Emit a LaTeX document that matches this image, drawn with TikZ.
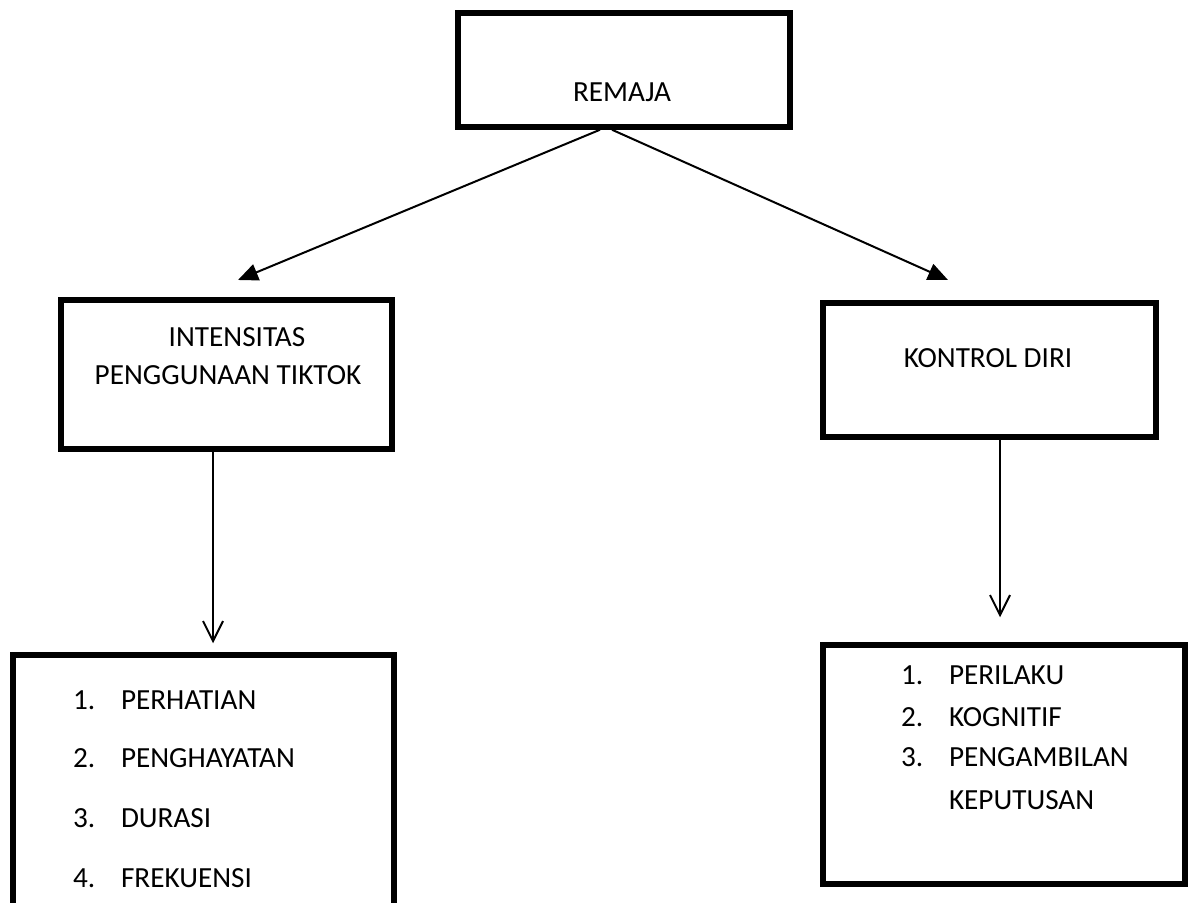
\documentclass[tikz,border=0pt]{standalone}
\usepackage{fontspec}
\setmainfont{Carlito}
\usetikzlibrary{calc,arrows.meta}

\begin{document}
\begin{tikzpicture}[x=0.5pt,y=-0.5pt,line width=1pt,
  box/.style={draw,line width=2.75pt,inner sep=0pt},
  txt/.style={inner sep=0pt,font=\fontsize{14.6}{17}\selectfont},
  item/.style={txt,anchor=west},
  fleche/.style={-{Triangle[length=10pt,width=8.5pt]}},
  chute/.style={-{Straight Barb[length=10pt,width=10pt]}}]
\useasboundingbox (0,0) rectangle (1194,903);
\clip (0,0) rectangle (1194,903);

%les cadres
\node[box,minimum width=166pt,minimum height=57pt] (remaja) at (624,70) {};
\node[box,minimum width=165.5pt,minimum height=74.5pt] (intens) at (226.5,374.5) {};
\node[box,minimum width=166.5pt,minimum height=67pt] (kontrol) at (989.5,370) {};
\node[box,minimum width=190.5pt,minimum height=160pt] (listA) at (203.5,815) {};
\node[box,minimum width=181pt,minimum height=119.5pt] (listB) at (1004,764.5) {};

%les textes
\node[txt] (tremaja) at (622,92) {REMAJA};
\node[txt] (tint1) at (237,337) {INTENSITAS};
\node[txt] (tint2) at (228,375) {PENGGUNAAN TIKTOK};
\node[txt] (tkon) at (988,358) {KONTROL DIRI};

\foreach \k/\t/\y in {1/PERHATIAN/700,2/PENGHAYATAN/758,3/DURASI/818,4/FREKUENSI/878}
{\node[item] (a\k) at (72,\y) {\k.};
 \node[item] (b\k) at (120,\y) {\t};}

\foreach \k/\t/\y in {1/PERILAKU/675,2/KOGNITIF/717,3/PENGAMBILAN/757}
{\node[item] (c\k) at (900,\y) {\k.};
 \node[item] (d\k) at (948,\y) {\t};}
\node[item] (d4) at (948,800) {KEPUTUSAN};

%les fleches
\coordinate (gA) at ($(listA.north)+(9.5,-9)$);
\coordinate (gB) at ($(listB.north)+(-4,-25)$);
\draw[fleche] ($(remaja.south)+(-24,0)$) -- (238,280);
\draw[fleche] ($(remaja.south)+(-12,0)$) -- (948,280);
\draw[chute] ($(intens.south)+(-13.5,0)$) -- (gA);
\draw[chute] ($(kontrol.south)+(10.5,0)$) -- (gB);
\end{tikzpicture}
\end{document}
